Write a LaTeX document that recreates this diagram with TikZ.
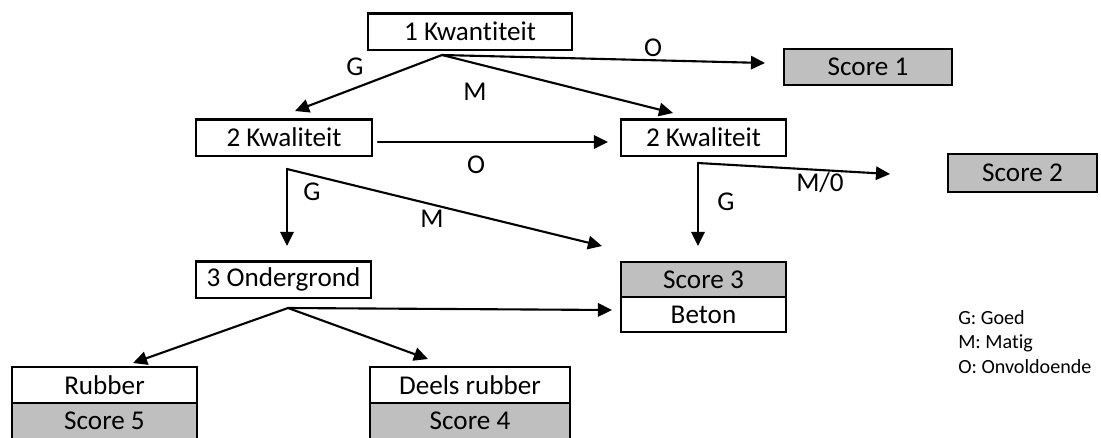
\documentclass[tikz,border=0pt]{standalone}
\usepackage{fontspec}
\setmainfont[RawFeature={-liga}]{Carlito}
\usetikzlibrary{arrows.meta}
\definecolor{bfbfbf}{rgb}{0.75,0.75,0.75}

\begin{document}
\begin{tikzpicture}[line cap=round,line join=round,>={Triangle[length=10pt,width=9.5pt]},x=0.025cm,y=-0.025cm,
  vak/.style={draw,line width=2pt,line join=miter,inner sep=0pt,minimum height=0.92cm,font=\fontsize{19.3}{23}\selectfont},
  scorevak/.style={vak,fill=bfbfbf},
  pijl/.style={->,line width=1.5pt},
  letter/.style={inner sep=0pt,font=\fontsize{19.3}{23}\selectfont},
  uitleg/.style={inner sep=0pt,anchor=base west,font=\fontsize{14.3}{17}\selectfont}]
\useasboundingbox (0,0) rectangle (1101,437);
\clip (0,0) rectangle (1101,437);
% vakken
\node [vak,minimum width=5.1cm] (kwant) at (470,31.5) {1 Kwantiteit};
\node [scorevak,minimum width=4.2cm,minimum height=0.9cm] (score1) at (868,67) {Score 1};
\node [vak,minimum width=4.4cm] (kwalL) at (284,137.5) {2 Kwaliteit};
\node [vak,minimum width=4.125cm] (kwalR) at (703.5,137.5) {2 Kwaliteit};
\node [scorevak,minimum width=3.725cm,minimum height=0.95cm] (score2) at (1022.5,173) {Score 2};
\node [vak,minimum width=4.375cm] (ondergr) at (283.5,279.5) {3 Ondergrond};
\node [scorevak,minimum width=4.125cm,minimum height=0.875cm] (score3) at (703.5,279.5) {Score 3};
\node [vak,minimum width=4.125cm,minimum height=0.875cm] (beton) at (703.5,314.5) {Beton};
\node [vak,minimum width=4.625cm,minimum height=0.9cm] (rubber) at (104.5,385) {Rubber};
\node [scorevak,minimum width=4.625cm,minimum height=0.9cm] (score5) at (104.5,421) {Score 5};
\node [vak,minimum width=5cm,minimum height=0.9cm] (deels) at (470,385) {Deels rubber};
\node [scorevak,minimum width=5cm,minimum height=0.9cm] (score4) at (470,421) {Score 4};
% punten
\coordinate (kwantSplit) at (442,55);
\coordinate (kwalLSplit) at (287,169);
\coordinate (kwalRSplit) at (698,163);
\coordinate (ondergrSplit) at (288,308);
\coordinate (vanKwalL) at (378,142);
\coordinate (naarKwalL) at (295,111);
\coordinate (naarKwalR) at (673,113);
\coordinate (naarScore1) at (765,63);
\coordinate (naarKwalRb) at (608,142);
\coordinate (naarOndergr) at (287,246);
\coordinate (naarScore3) at (602,246);
\coordinate (naarScore3b) at (698,246);
\coordinate (naarScore2) at (890,174);
\coordinate (naarRubber) at (133,363);
\coordinate (naarDeels) at (428,359);
\coordinate (naarBeton) at (612,310);
% pijlen
\draw [pijl] (kwantSplit) -- (naarKwalL);
\draw [pijl] (kwantSplit) -- (naarKwalR);
\draw [pijl] (kwantSplit) -- (naarScore1);
\draw [pijl] (vanKwalL) -- (naarKwalRb);
\draw [pijl] (kwalLSplit) -- (naarOndergr);
\draw [pijl] (kwalLSplit) -- (naarScore3);
\draw [pijl] (kwalRSplit) -- (naarScore3b);
\draw [pijl] (kwalRSplit) -- (naarScore2);
\draw [pijl] (ondergrSplit) -- (naarRubber);
\draw [pijl] (ondergrSplit) -- (naarDeels);
\draw [pijl] (ondergrSplit) -- (naarBeton);
% letters
\node [letter] (gA) at (355,67) {G};
\node [letter] (mA) at (475,92) {M};
\node [letter] (oA) at (653,48) {O};
\node [letter] (oB) at (476,165) {O};
\node [letter] (gB) at (312,192) {G};
\node [letter] (mB) at (432,219) {M};
\node [letter] (gC) at (726,202) {G};
\node [letter] (mC) at (820,183) {M/0};
% legenda
\node [uitleg] (legG) at (958,324) {G: Goed};
\node [uitleg] (legM) at (958,348.5) {M: Matig};
\node [uitleg] (legO) at (958,373) {O: Onvoldoende};
\end{tikzpicture}
\end{document}
